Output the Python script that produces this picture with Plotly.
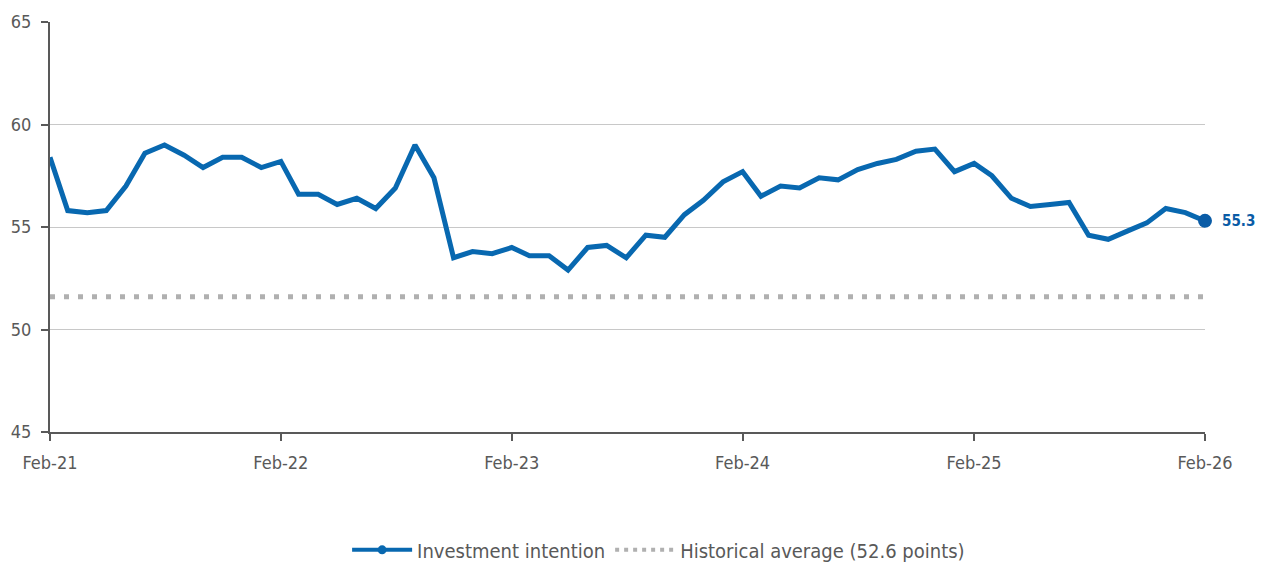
import plotly.graph_objects as go
import pandas as pd

# monthly index values, Feb-21 .. Feb-26
dates = pd.date_range("2021-02-01", "2026-02-01", freq="MS")
investment = [
    58.4, 55.8, 55.7, 55.8, 57.0, 58.6, 59.0, 58.5, 57.9, 58.4, 58.4, 57.9,
    58.2, 56.6, 56.6, 56.1, 56.4, 55.9, 56.9, 59.0, 57.4, 53.5, 53.8, 53.7,
    54.0, 53.6, 53.6, 52.9, 54.0, 54.1, 53.5, 54.6, 54.5, 55.6, 56.3, 57.2,
    57.7, 56.5, 57.0, 56.9, 57.4, 57.3, 57.8, 58.1, 58.3, 58.7, 58.8, 57.7,
    58.1, 57.5, 56.4, 56.0, 56.1, 56.2, 54.6, 54.4, 54.8, 55.2, 55.9, 55.7,
    55.3,
]
hist_avg = 51.6  # as drawn on the chart
tick_dates = ["2021-02-01", "2022-02-01", "2023-02-01", "2024-02-01", "2025-02-01", "2026-02-01"]
tick_labels = ["Feb-21", "Feb-22", "Feb-23", "Feb-24", "Feb-25", "Feb-26"]

BLUE = "#0868b0"
DARK_BLUE = "#0a5ca6"
GREY = "#595959"
DOT_GREY = "#b0b0b0"
FONT = "DejaVu Sans Condensed, Liberation Sans Narrow, Roboto, sans-serif"

fig = go.Figure()

fig.add_trace(go.Scatter(x=dates, y=[hist_avg] * len(dates), mode="lines",
                         line=dict(color=DOT_GREY, width=5, dash="5px,9px"),
                         showlegend=False, hoverinfo="skip"))
fig.add_trace(go.Scatter(x=dates, y=investment, mode="lines",
                         line=dict(color=BLUE, width=5), showlegend=False))
fig.add_trace(go.Scatter(x=[dates[-1]], y=[investment[-1]], mode="markers",
                         marker=dict(color=DARK_BLUE, size=14), showlegend=False,
                         cliponaxis=False))

# legend-only entries
fig.add_trace(go.Scatter(x=[None], y=[None], mode="lines+markers", name="Investment intention",
                         line=dict(color=BLUE, width=4), marker=dict(color=BLUE, size=9)))
fig.add_trace(go.Scatter(x=[None], y=[None], mode="lines", name="Historical average (52.6 points)",
                         line=dict(color=DOT_GREY, width=4, dash="4px,5px")))

fig.add_annotation(x=dates[-1], y=investment[-1], text="<b>55.3</b>", showarrow=False,
                   xanchor="left", xshift=15, yshift=0,
                   font=dict(size=15, color=DARK_BLUE, family=FONT))

# page body adds 8px offset, so the figure is 8px smaller than the window
fig.update_layout(
    width=1256, height=554,
    margin=dict(l=42, r=59, t=14, b=130),
    paper_bgcolor="white", plot_bgcolor="white",
    font=dict(family=FONT, size=18, color=GREY),
    showlegend=True,
    legend=dict(orientation="h", xref="container", yref="container",
                x=0.518, xanchor="center", y=0.022, yanchor="middle",
                font=dict(size=20, color=GREY), itemwidth=60),
    xaxis=dict(type="date", range=[dates[0], dates[-1]], automargin=False,
               tickvals=tick_dates, ticktext=tick_labels, ticklabelstandoff=6,
               showgrid=False, showline=True, linecolor=GREY, linewidth=2,
               ticks="outside", ticklen=7, tickwidth=2, tickcolor=GREY, zeroline=False),
    yaxis=dict(range=[45, 65], tickvals=[45, 50, 55, 60, 65], automargin=False,
               ticklabelstandoff=6,
               showgrid=True, gridcolor="#c8c8c8", gridwidth=1,
               showline=True, linecolor=GREY, linewidth=2,
               ticks="outside", ticklen=7, tickwidth=2, tickcolor=GREY, zeroline=False),
)

fig.write_html("out.html")
